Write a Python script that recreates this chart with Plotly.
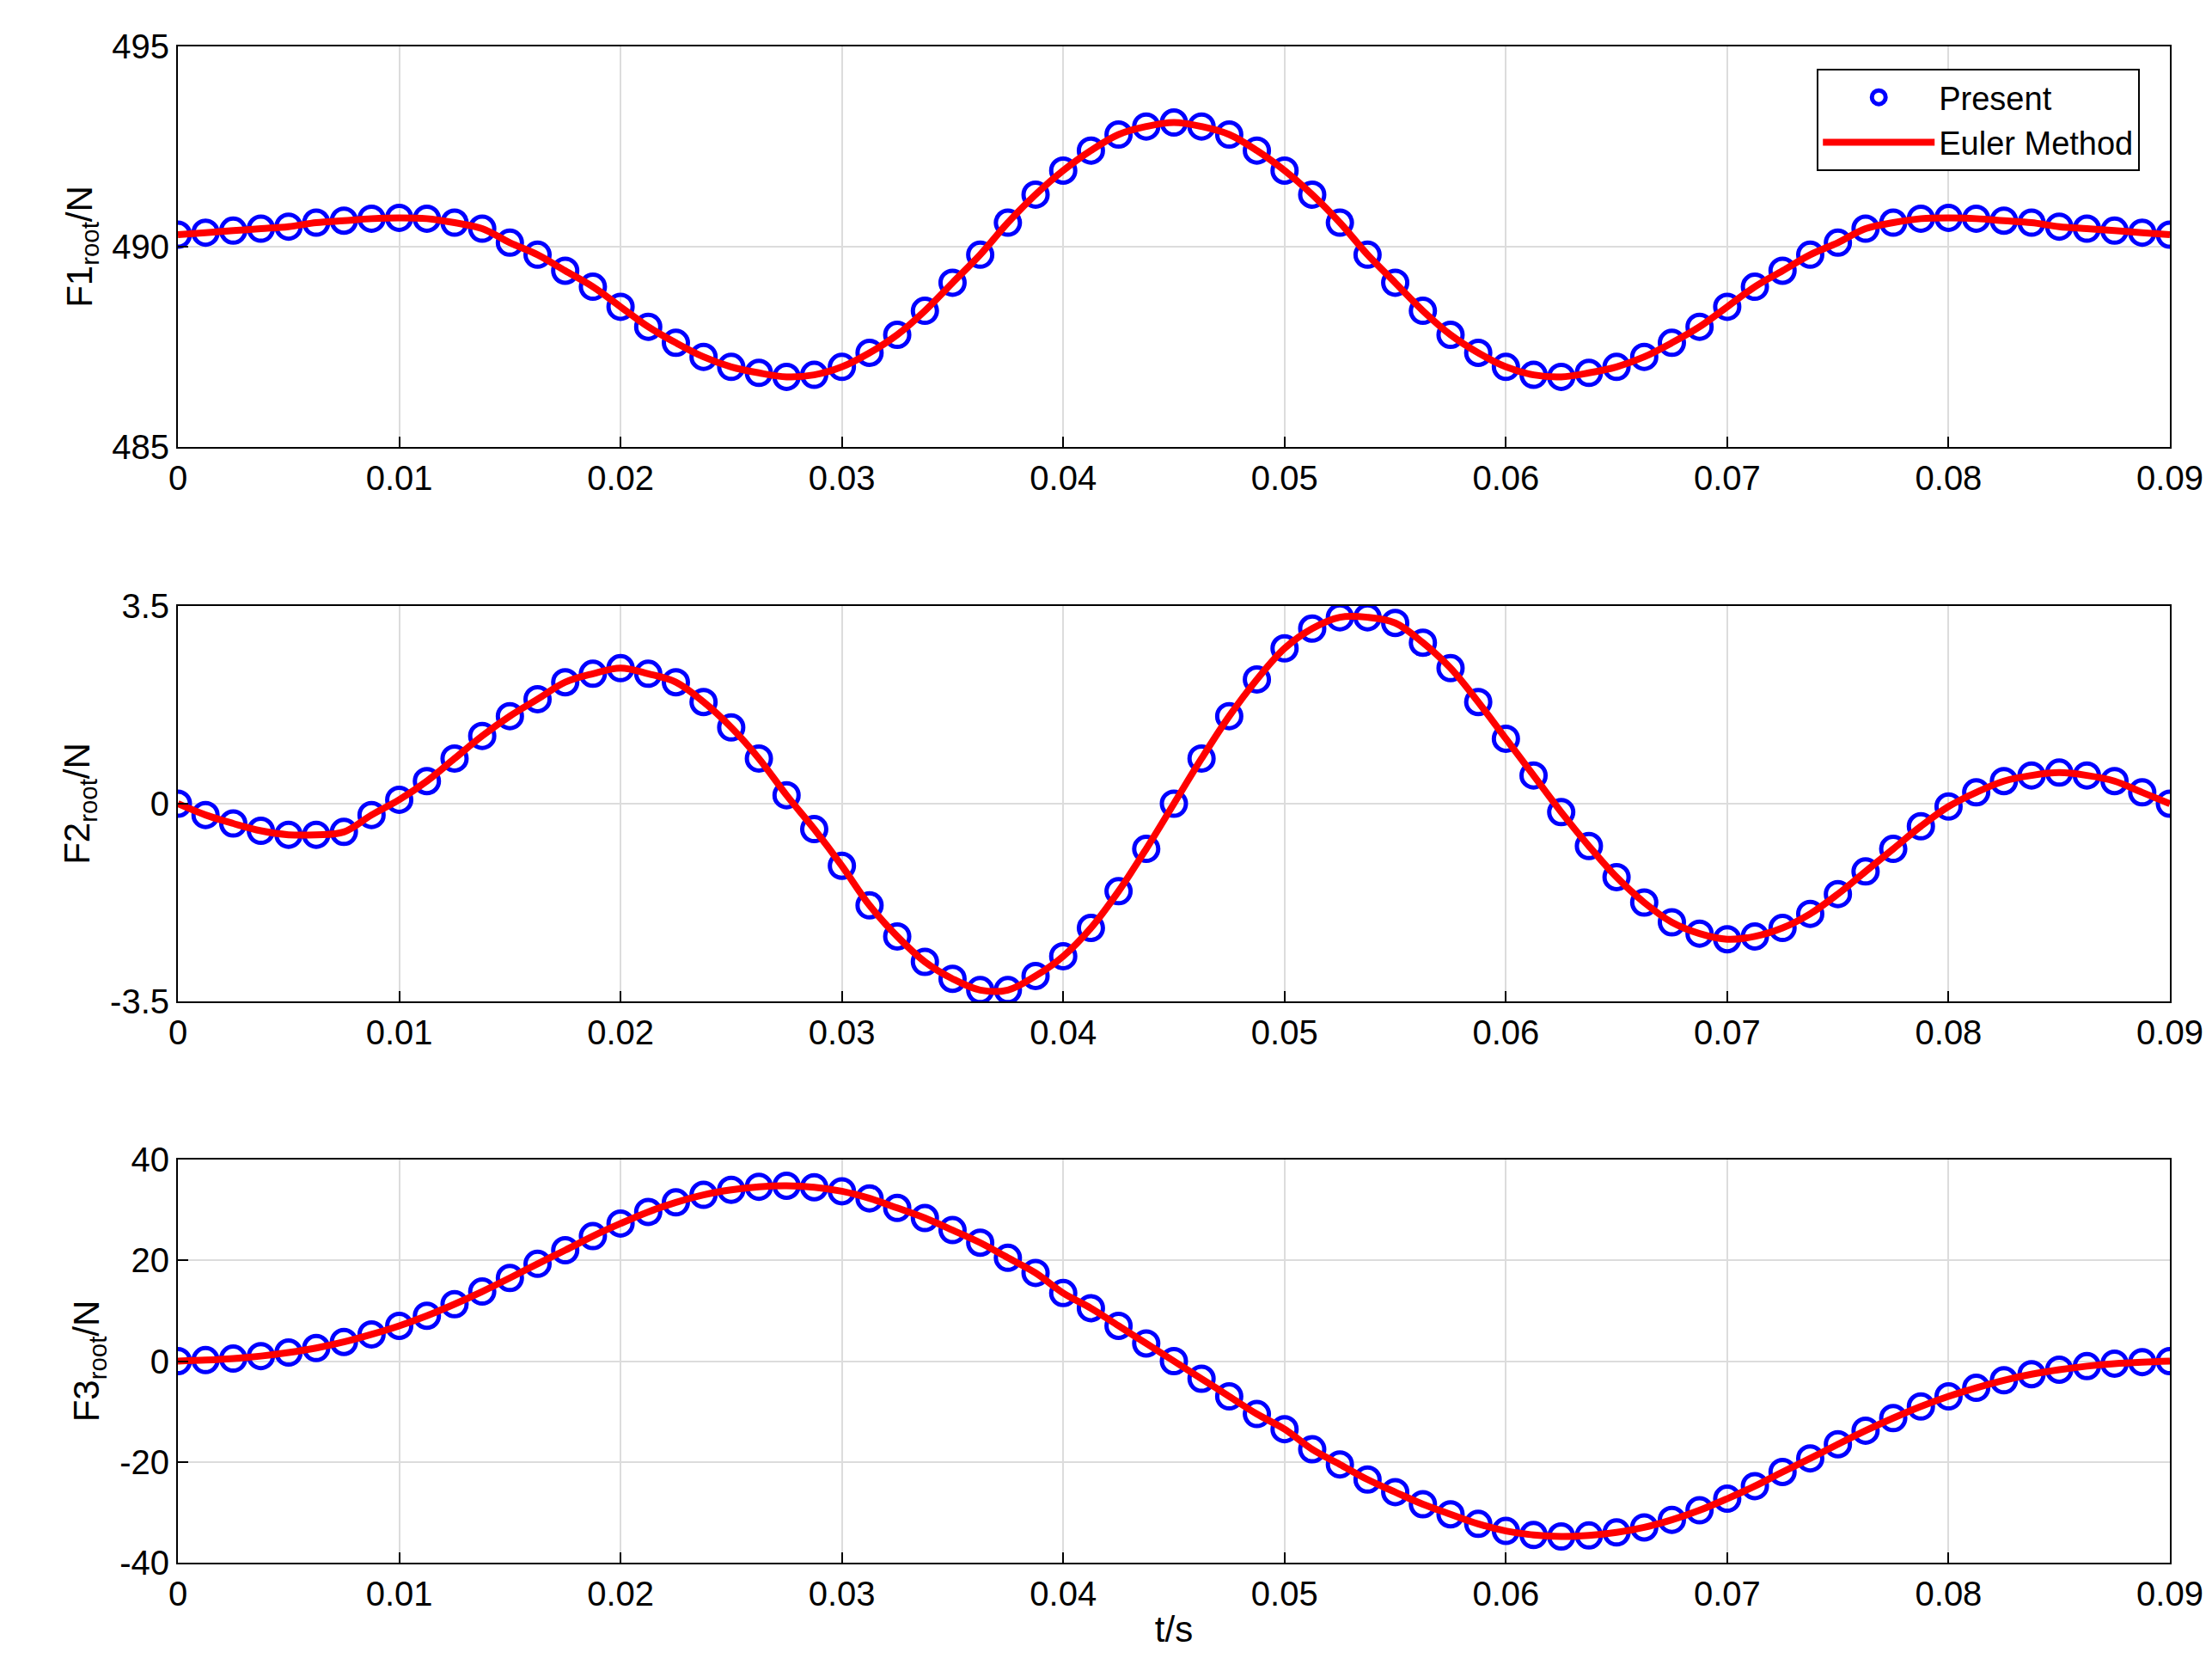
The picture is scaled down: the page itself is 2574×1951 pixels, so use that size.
import plotly.graph_objects as go

t = [k * 0.00125 for k in range(73)]

f1_half = [490.3, 490.35, 490.4, 490.45, 490.5, 490.6, 490.65, 490.7, 490.72, 490.7, 490.6, 490.45,
           490.1, 489.8, 489.4, 489.0, 488.5, 488.0, 487.6, 487.25, 487.0, 486.85, 486.75, 486.8,
           487.0, 487.35, 487.8, 488.4, 489.1, 489.8, 490.6, 491.3, 491.9, 492.4, 492.8, 493.0, 493.1]
F1 = f1_half + f1_half[-2::-1]

F2 = [0, -0.2, -0.35, -0.48, -0.55, -0.55, -0.5, -0.2, 0.07, 0.4, 0.8, 1.2, 1.55, 1.85, 2.15, 2.3, 2.4,
      2.3, 2.15, 1.8, 1.35, 0.8, 0.15, -0.45, -1.1, -1.8, -2.35, -2.8, -3.1, -3.3, -3.3, -3.05, -2.7,
      -2.2, -1.55, -0.8, 0, 0.8, 1.55, 2.2, 2.75, 3.1, 3.3, 3.3, 3.2, 2.85, 2.4, 1.8, 1.15, 0.5, -0.15,
      -0.75, -1.3, -1.75, -2.1, -2.3, -2.4, -2.35, -2.2, -1.95, -1.6, -1.2, -0.8, -0.4, -0.05, 0.2, 0.4,
      0.5, 0.55, 0.5, 0.4, 0.2, 0]

f3_half = [0, 0.2, 0.5, 1.0, 1.7, 2.6, 3.8, 5.3, 7.0, 9.0, 11.3, 13.8, 16.5, 19.3, 22.0, 24.8, 27.3,
           29.6, 31.5, 33.0, 34.0, 34.6, 34.8, 34.5, 33.7, 32.3, 30.4, 28.4, 26.0, 23.5, 20.5, 17.5,
           13.5, 10.5, 7.0, 3.5, 0]
F3 = f3_half + [-v for v in f3_half[-2::-1]]

x_ticks = [0, 0.01, 0.02, 0.03, 0.04, 0.05, 0.06, 0.07, 0.08, 0.09]
x_labels = ["0", "0.01", "0.02", "0.03", "0.04", "0.05", "0.06", "0.07", "0.08", "0.09"]
y_titles = ["F1<sub>root</sub>/N", "F2<sub>root</sub>/N", "F3<sub>root</sub>/N"]
y_ranges = [[485, 495], [-3.5, 3.5], [-40, 40]]
y_ticks = [[485, 490, 495], [-3.5, 0, 3.5], [-40, -20, 0, 20, 40]]
y_labels = [["485", "490", "495"], ["-3.5", "0", "3.5"], ["-40", "-20", "0", "20", "40"]]
series = [F1, F2, F3]

W, H = 2574, 1951
ml, mr, mt, mb = 199, 57, 46, 141
ph = H - mt - mb
panels_px = [(46, 512), (697, 1157), (1341, 1810)]

fig = go.Figure()
font = "Liberation Sans, Arial"
for i, y in enumerate(series):
    xa = "x" if i == 0 else f"x{i+1}"
    ya = "y" if i == 0 else f"y{i+1}"
    fig.add_trace(go.Scatter(x=t, y=y, mode="markers", name="Present", showlegend=(i == 0),
                             marker=dict(symbol="circle-open", size=28, color="blue", line=dict(width=5, color="blue")),
                             xaxis=xa, yaxis=ya))
    fig.add_trace(go.Scatter(x=t, y=y, mode="lines", name="Euler Method", showlegend=(i == 0),
                             line=dict(color="red", width=8, shape="spline"),
                             xaxis=xa, yaxis=ya))
    top, bot = panels_px[i]
    dom = [(H - mb - bot) / ph, (H - mb - top) / ph]
    axcommon = dict(showline=True, linecolor="black", linewidth=2, mirror=True, ticks="inside",
                    ticklen=12, tickwidth=2, tickcolor="black", showgrid=True, gridcolor="#dcdcdc",
                    gridwidth=2, zeroline=False, tickfont=dict(size=40, color="black", family=font))
    xkey = "xaxis" if i == 0 else f"xaxis{i+1}"
    ykey = "yaxis" if i == 0 else f"yaxis{i+1}"
    xd = dict(axcommon, range=[0, 0.09], tickvals=x_ticks, ticktext=x_labels, anchor=ya, domain=[0, 1])
    if i == 2:
        xd["title"] = dict(text="t/s", font=dict(size=42, color="black", family=font), standoff=6)
    fig.update_layout({xkey: xd,
                       ykey: dict(axcommon, range=y_ranges[i], tickvals=y_ticks[i], ticktext=y_labels[i],
                                  anchor=xa, domain=dom,
                                  title=dict(text=y_titles[i], font=dict(size=42, color="black", family=font), standoff=10))})

fig.update_layout(width=W, height=H, margin=dict(l=ml, r=mr, t=mt, b=mb), plot_bgcolor="white",
                  paper_bgcolor="white", font=dict(family=font, color="black"),
                  legend=dict(x=0.985, y=(H - mb - 72) / ph, xanchor="right", yanchor="top",
                              xref="paper", yref="paper", itemsizing="trace",
                              bgcolor="white", bordercolor="black", borderwidth=2,
                              font=dict(size=38, family=font, color="black"), itemwidth=130))
fig.write_html("out.html")
